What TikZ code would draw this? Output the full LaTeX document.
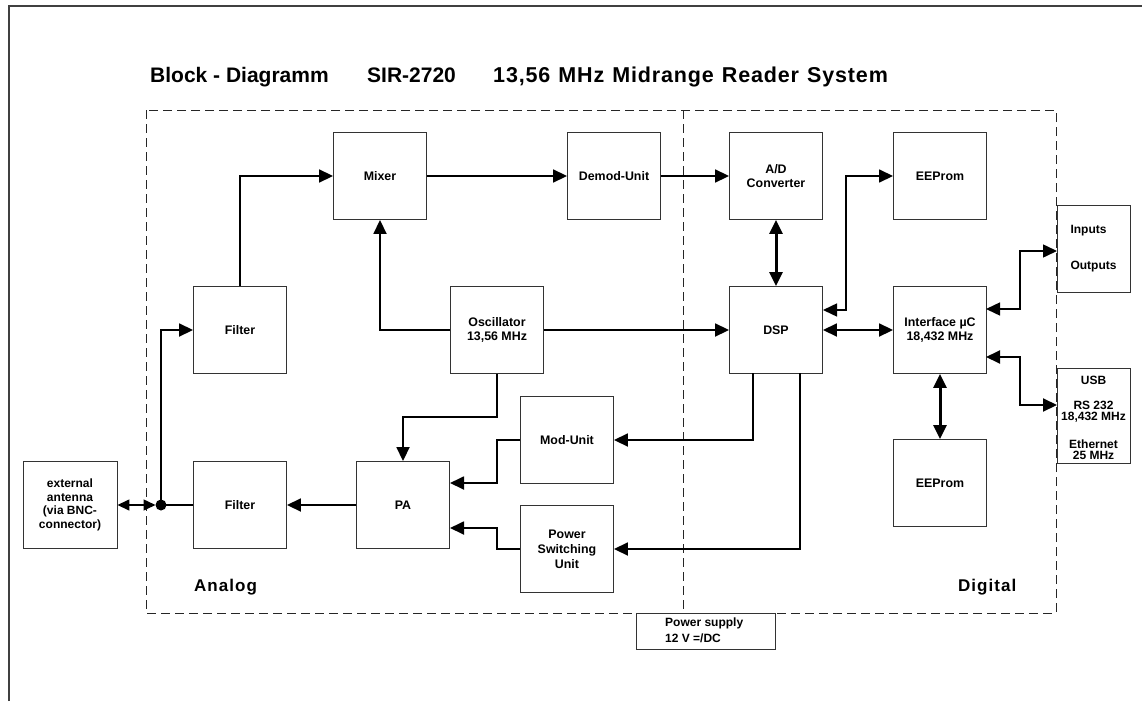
\documentclass[tikz,border=0pt]{standalone}
\usepackage{fontspec}
\setmainfont{Liberation Sans}
\usetikzlibrary{arrows.meta}
\begin{document}
\begin{tikzpicture}[x=1pt,y=-1pt,
  blk/.style={draw=black!80,line width=0.9pt,minimum width=93pt,minimum height=87pt,
    inner sep=0pt,align=center,font=\bfseries\fontsize{12.4}{14}\selectfont},
  tip/.tip={Triangle[length=14pt,width=13pt]},
  con/.style={line width=1.8pt,-tip},
  bicon/.style={line width=1.8pt,tip-tip},
  thickbi/.style={line width=3pt,tip-tip},
  thinbi/.style={line width=1.5pt,tip-tip},
  region/.style={draw=black!85,line width=0.9pt,dash pattern=on 9pt off 5pt},
  lbl/.style={font=\bfseries\fontsize{17}{20}\selectfont\addfontfeature{LetterSpace=6},inner sep=0pt},
  ttl/.style={font=\bfseries\fontsize{21}{24}\selectfont,inner sep=0pt,anchor=base west}
]
\useasboundingbox (0,0) rectangle (1142,701);
% outer frame
\draw[black!75,line width=1.2pt] (9,701) -- (9,6) -- (1142,6);
% title
\node[ttl] (t1) at (150,82) {Block - Diagramm};
\node[ttl] (t2) at (367,82) {SIR-2720};
\node[ttl,font={\bfseries\fontsize{21.5}{24}\selectfont\addfontfeature{LetterSpace=4}\spaceskip 8pt}] (t3) at (493,82) {13,56 MHz Midrange Reader System};
% regions
\draw[region] (146,110) rectangle (1056,613);
\draw[region] (683,110) -- (683,613);
\node[lbl,anchor=base west] (an) at (194,591) {Analog};
\node[lbl,anchor=base west] (dg) at (958,591) {Digital};
% power supply
\node[draw=black!80,line width=0.9pt,fill=white,minimum width=139pt,minimum height=36pt,inner sep=0pt] (ps) at (705.5,631) {};
\node[font=\bfseries\fontsize{12}{16}\selectfont,align=left,anchor=north west,inner sep=0pt] (pst) at (665,618) {Power supply\\12 V =/DC};
% blocks
\node[blk,minimum width=94pt,font=\bfseries\fontsize{12}{13.5}\selectfont] (ant) at (70,505) {external\\antenna\\(via BNC-\\connector)};
\node[blk] (f1) at (240,330) {Filter};
\node[blk] (f2) at (240,505) {Filter};
\node[blk] (mix) at (380,176) {Mixer};
\node[blk] (osc) at (497,330) {Oscillator\\13,56 MHz};
\node[blk] (pa) at (403,505) {PA};
\node[blk] (mod) at (567,440) {Mod-Unit};
\node[blk,font=\bfseries\fontsize{12.4}{15}\selectfont] (psu) at (567,549) {Power\\Switching\\Unit};
\node[blk] (dem) at (614,176) {Demod-Unit};
\node[blk] (adc) at (776,176) {A/D\\Converter};
\node[blk] (dsp) at (776,330) {DSP};
\node[blk] (ee1) at (940,176) {EEProm};
\node[blk] (ifc) at (940,330) {Interface µC\\18,432 MHz};
\node[blk] (ee2) at (940,483) {EEProm};
\node[blk,fill=white,minimum width=73pt,align=left,font=\bfseries\fontsize{12}{14}\selectfont] (io) at (1093.5,248.5) {Inputs\\[22pt]Outputs};
\node[blk,fill=white,minimum width=73pt,minimum height=95pt] (usb) at (1093.5,415.5) {};
\node[font=\bfseries\fontsize{12}{10.8}\selectfont,align=center,inner sep=0pt] (usbt) at (1093.5,418) {USB\\[14pt]RS 232\\18,432 MHz\\[18pt]Ethernet\\25 MHz};
% junction
\coordinate (j) at (161,505);
\fill (j) circle (5.5pt);
\coordinate (jl) at (155.5,505);
% connectors
\draw[line width=1.5pt,{Triangle[length=12pt,width=11pt]}-{Triangle[length=12pt,width=11pt]}] (ant.east) -- (jl);
\draw[line width=1.8pt] (j) -- (f2.west);
\draw[con] (j) -- (j |- f1.west) -- (f1.west);
\draw[con] (f1.north) -- (f1.north |- mix.west) -- (mix.west);
\draw[con] (mix.east) -- (dem.west);
\draw[con] (dem.east) -- (adc.west);
\draw[con] (osc.west) -- (mix.south |- osc.west) -- (mix.south);
\draw[con] (osc.east) -- (dsp.west);
\draw[con] (osc.south) -- (497,417) -- (403,417) -- (pa.north);
\draw[con] (mod.west) -- (497,440) -- (497,483) -- (450,483);
\draw[con] (psu.west) -- (497,549) -- (497,528) -- (450,528);
\draw[con] (753,373) -- (753,440) -- (mod.east);
\draw[con] (800,373) -- (800,549) -- (psu.east);
\draw[con] (pa.west) -- (f2.east);
\draw[thickbi] (adc.south) -- (dsp.north);
\draw[thinbi] (823,310) -- (846,310) -- (846,176) -- (ee1.west);
\draw[bicon] (dsp.east) -- (ifc.west);
\draw[thickbi] (ifc.south) -- (ee2.north);
\draw[thinbi] (986,309) -- (1020,309) -- (1020,251) -- (1057,251);
\draw[line width=2pt,tip-tip] (986,357) -- (1020,357) -- (1020,405) -- (1057,405);
\end{tikzpicture}
\end{document}
